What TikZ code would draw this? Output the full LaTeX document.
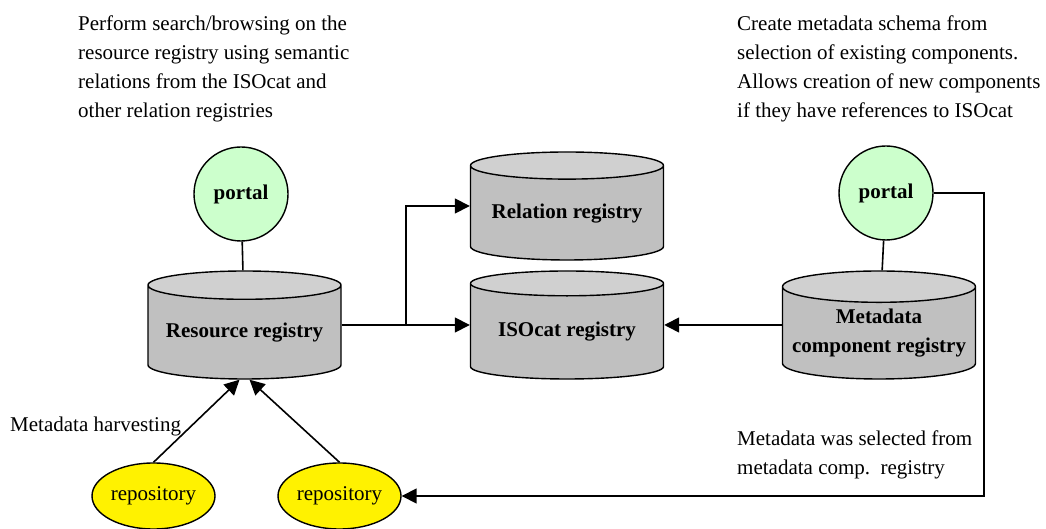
\documentclass[tikz,border=0pt]{standalone}
\usepackage{fontspec}
\setmainfont{Liberation Serif}
\usepackage{tikz}
\usetikzlibrary{shapes,arrows.meta,positioning,calc}

\definecolor{portalgreen}{HTML}{CCFFCC}
\definecolor{cylgray}{HTML}{C0C0C0}
\definecolor{cyltop}{HTML}{D0D0D0}
\newcommand{\diagfont}{\fontsize{21}{29}\selectfont}

\tikzset{
  portal/.style={circle, draw, line width=1.4pt, fill=portalgreen, minimum size=94pt, inner sep=0pt, font=\diagfont\bfseries},
  registry/.style={cylinder, shape border rotate=90, aspect=0.18, draw, line width=1.4pt,
    cylinder uses custom fill, cylinder body fill=cylgray, cylinder end fill=cyltop,
    minimum width=193pt, minimum height=108pt, inner sep=0pt, align=center, anchor=shape center,
    font=\diagfont\bfseries},
  repo/.style={ellipse, draw, line width=1.4pt, fill=yellow, minimum width=123pt, minimum height=66pt, inner sep=0pt, font=\diagfont},
  conn/.style={line width=1.6pt},
  arr/.style={line width=1.6pt, -{Triangle[length=15pt,width=15pt]}},
  note/.style={align=left, inner sep=0pt, anchor=north west, font=\diagfont}
}

\begin{document}
\begin{tikzpicture}[x=1pt,y=1pt]
    \useasboundingbox (0,0) rectangle (1046,529);

    % Notes on top
    \node[note] (searchnote) at (78,513.5) {Perform search/browsing on the\\ resource registry using semantic\\ relations from the ISOcat and\\ other relation registries};
    \node[note] (schemanote) at (737,513.5) {Create metadata schema from\\ selection of existing components.\\ Allows creation of new components\\ if they have references to ISOcat};

    % Portals
    \node[portal] (portalL) at (241,335) {portal};
    \node[portal] (portalR) at (886,336) {portal};

    % Registries
    \node[registry] (resreg) at (244.5,204) {Resource registry};
    \node[registry] (relreg) at (567,323) {Relation registry};
    \node[registry] (isoreg) at (567,204) {ISOcat registry};
    \node[registry] (mdreg) at (879,204) {Metadata\\ component registry};

    % Repositories
    \node[repo] (repoA) at (153.5,33) {repository};
    \node[repo] (repoB) at (339.5,33) {repository};

    % Notes below
    \node[anchor=base west, inner sep=0pt, font=\diagfont] (harvest) at (10,97) {Metadata harvesting};
    \node[note] (selnote) at (737,98.5) {Metadata was selected from\\ metadata comp.\ \ registry};

    % Connections
    \draw[conn] (portalL) -- (resreg);
    \draw[conn] (portalR) -- (mdreg);
    \coordinate (split) at ($(resreg.east)!0.5!(isoreg.west)$);
    \draw[arr] (resreg.shape center -| resreg.east) -- (isoreg.shape center -| isoreg.west);
    \draw[arr] (split |- resreg.shape center) |- (relreg.shape center -| relreg.west);
    \draw[arr] (mdreg.shape center -| mdreg.west) -- (isoreg.shape center -| isoreg.east);
    \draw[arr] (repoA.north) -- ([xshift=-5pt]resreg.south);
    \draw[arr] (repoB.north) -- ([xshift=5pt]resreg.south);
    \draw[arr] (portalR.east) -- ++(50,0) |- (repoB.east);
\end{tikzpicture}
\end{document}
